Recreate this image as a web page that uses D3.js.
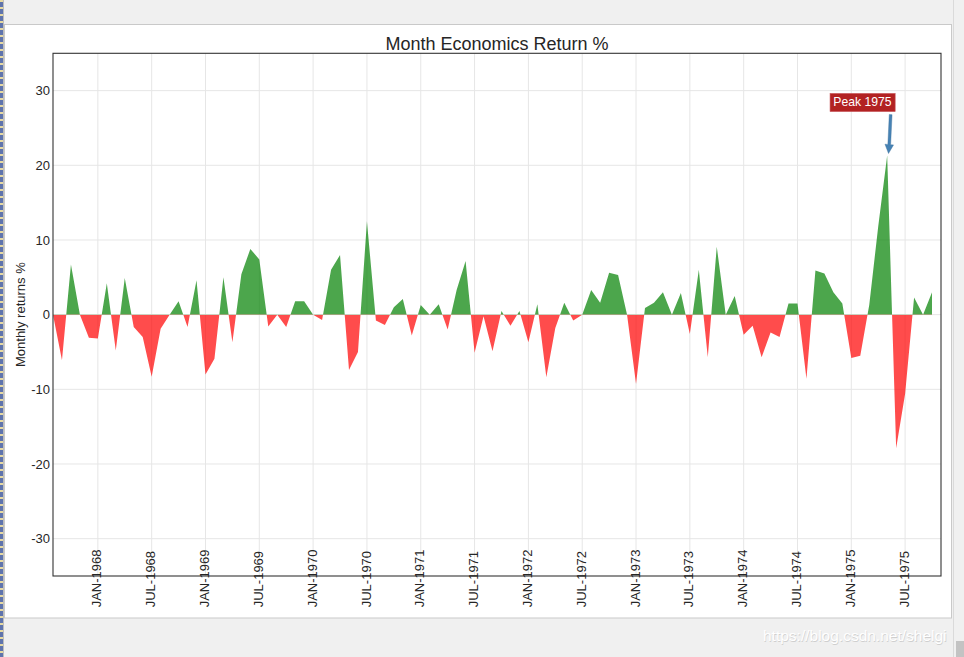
<!DOCTYPE html>
<html>
<head>
<meta charset="utf-8">
<script src="https://cdn.jsdelivr.net/npm/d3@7"></script>
<style>
  body { margin: 0; background: #f0f0f0; }
  svg { display: block; font-family: "Liberation Sans", Arial, "Helvetica", sans-serif; }
</style>
</head>
<body>
<svg id="chart" width="964" height="657"></svg>
<script>
// ---------------- data ----------------
// monthly % change of personal savings rate, Jul-1967 .. Oct-1975 (index 0..99)
const returns = [
  0, 0, -6.1, 6.7, 0, -3.1, -3.2, 4.2, -4.8, 4.9,
  -1.65, -3.0, -8.3, -1.9, 0, 1.8, -1.65, 4.6, -8.0, -5.9,
  5.0, -3.7, 5.4, 8.8, 7.4, -1.6, 0, -1.65, 1.8, 1.8,
  0, -0.7, 6.0, 8.0, -7.4, -5.0, 12.5, -0.8, -1.4, 1.0,
  2.1, -2.8, 1.3, 0, 1.4, -2.0, 3.3, 7.2, -5.1, -0.2,
  -4.9, 0.5, -1.5, 0.5, -3.7, 1.4, -8.4, -1.8, 1.6, -0.8,
  0, 3.3, 1.6, 5.6, 5.3, 0, -9.3, 0.9, 1.6, 3.0,
  0, 2.9, -2.6, 6.0, -5.7, 9.1, 0, 2.5, -2.7, -1.5,
  -5.7, -2.4, -3.0, 1.5, 1.5, -8.6, 5.9, 5.5, 3.0, 1.5,
  -5.8, -5.5, 1.3, 11.8, 21.3, -17.9, -10.6, 2.3, 0, 3.0
];
const xTickIndex = [0, 6, 12, 18, 24, 30, 36, 42, 48, 54, 60, 66, 72, 78, 84, 90, 96];
const xTickLabels = ["JUL-1967", "JAN-1968", "JUL-1968", "JAN-1969", "JUL-1969", "JAN-1970",
  "JUL-1970", "JAN-1971", "JUL-1971", "JAN-1972", "JUL-1972", "JAN-1973", "JUL-1973",
  "JAN-1974", "JUL-1974", "JAN-1975", "JUL-1975"];
const yTicks = [-30, -20, -10, 0, 10, 20, 30];
const xLimits = [1, 100];
const yLimits = [-35, 35];
const annotations = [{ text: "Peak 1975", x: 94, y: 21, textX: 88, textY: 28 }];
const titleText = "Month Economics Return %";
const yLabelText = "Monthly returns %";
const watermarkText = "https://blog.csdn.net/shelgi";

// ---------------- layout ----------------
const svg = d3.select("#chart");
const W = 964, H = 657;
const plot = { left: 53, right: 941, top: 53.3, bottom: 576 };

// window chrome
svg.append("rect").attr("x", 0).attr("y", 0).attr("width", W).attr("height", H).attr("fill", "#f0f0f0");
svg.append("rect").attr("x", 4.5).attr("y", 24.5).attr("width", 947).attr("height", 593.5)
  .attr("fill", "#ffffff").attr("stroke", "#c9c9c9").attr("stroke-width", 1);
// left dotted strip
const defs = svg.append("defs");
const pat = defs.append("pattern").attr("id", "dots").attr("patternUnits", "userSpaceOnUse")
  .attr("width", 3).attr("height", 7);
pat.append("rect").attr("width", 3).attr("height", 7).attr("fill", "#5f74ad");
pat.append("rect").attr("y", 0).attr("width", 3).attr("height", 2).attr("fill", "#e6d9a2");
svg.append("rect").attr("x", 0).attr("y", 0).attr("width", 3).attr("height", H).attr("fill", "url(#dots)");
svg.append("line").attr("x1", 3.5).attr("x2", 3.5).attr("y1", 0).attr("y2", H).attr("stroke", "#bdbdbd");
// right edge
svg.append("line").attr("x1", 953.5).attr("x2", 953.5).attr("y1", 0).attr("y2", H).attr("stroke", "#dadada");

// scales
const x = d3.scaleLinear().domain(xLimits).range([plot.left, plot.right]);
const y = d3.scaleLinear().domain(yLimits).range([plot.bottom, plot.top]);

// grid
const g = svg.append("g");
g.append("g").selectAll("line").data(yTicks).join("line")
  .attr("x1", plot.left).attr("x2", plot.right)
  .attr("y1", d => y(d)).attr("y2", d => y(d))
  .attr("stroke", "#e6e6e6").attr("stroke-width", 1);
const visibleTicks = xTickIndex.map((d, i) => ({ i: d, label: xTickLabels[i] }))
  .filter(d => d.i >= xLimits[0] && d.i <= xLimits[1]);
g.append("g").selectAll("line").data(visibleTicks).join("line")
  .attr("x1", d => x(d.i)).attr("x2", d => x(d.i))
  .attr("y1", plot.top).attr("y2", plot.bottom)
  .attr("stroke", "#e6e6e6").attr("stroke-width", 1);

// areas
const pts = returns.map((v, i) => ({ i, v })).filter(d => d.i >= 1);
const area = d3.area().x(d => x(d.i)).y0(y(0)).y1(d => y(d.v));
defs.append("clipPath").attr("id", "above").append("rect")
  .attr("x", plot.left).attr("y", plot.top).attr("width", plot.right - plot.left).attr("height", y(0) - plot.top);
defs.append("clipPath").attr("id", "below").append("rect")
  .attr("x", plot.left).attr("y", y(0)).attr("width", plot.right - plot.left).attr("height", plot.bottom - y(0));
g.append("path").datum(pts).attr("d", area).attr("fill", "green").attr("fill-opacity", 0.7)
  .attr("clip-path", "url(#above)");
g.append("path").datum(pts).attr("d", area).attr("fill", "red").attr("fill-opacity", 0.7)
  .attr("clip-path", "url(#below)");

// spines
g.append("rect").attr("x", plot.left).attr("y", plot.top)
  .attr("width", plot.right - plot.left).attr("height", plot.bottom - plot.top)
  .attr("fill", "none").attr("stroke", "#333").attr("stroke-width", 1.1);

// y tick labels
g.append("g").selectAll("text").data(yTicks).join("text")
  .attr("x", plot.left - 3).attr("y", d => y(d)).attr("dy", "0.36em")
  .attr("text-anchor", "end").attr("font-size", 13).attr("fill", "#262626")
  .text(d => String(d));

// x tick labels (rotated)
g.append("g").selectAll("text").data(visibleTicks).join("text")
  .attr("transform", d => `translate(${x(d.i)},607.3) rotate(-90)`)
  .attr("dy", "0.28em")
  .attr("text-anchor", "start").attr("font-size", 13).attr("fill", "#262626")
  .text(d => d.label);

// title
svg.append("text").attr("x", (plot.left + plot.right) / 2).attr("y", 49.5)
  .attr("text-anchor", "middle").attr("font-size", 18).attr("fill", "#262626")
  .text(titleText);

// y label
svg.append("text").attr("transform", `translate(24.5,${(plot.top + plot.bottom) / 2}) rotate(-90)`)
  .attr("text-anchor", "middle").attr("font-size", 13).attr("fill", "#262626")
  .text(yLabelText);

// annotation
annotations.forEach(a => {
  const fs = 12.2;
  const tx = x(a.textX), ty = y(a.textY);
  const ag = svg.append("g");
  const box = ag.append("rect");
  const t = ag.append("text").attr("x", tx).attr("y", ty).attr("font-size", fs)
    .attr("fill", "#ffffff").text(a.text);
  const bb = t.node().getBBox();
  const bx0 = bb.x - 3.3, bx1 = bb.x + bb.width + 3.3;
  const by0 = ty - 0.716 * fs - 3.4, by1 = ty + 6;
  box.attr("x", bx0).attr("y", by0).attr("width", bx1 - bx0).attr("height", by1 - by0)
    .attr("fill", "#b22222").attr("stroke", "#c8565a").attr("stroke-width", 0.6);
  // arrow from box toward point
  const sx = bx1 - 4.5, sy = by1 + 3;
  const px = x(a.x), py = y(a.y);
  const len = Math.hypot(px - sx, py - sy);
  const ux = (px - sx) / len, uy = (py - sy) / len;
  const tipX = px - ux * len * 0.1 + 1, tipY = py - uy * len * 0.1;
  const headL = 9, headW = 4.3, shaftW = 1.4;
  const nx = -uy, ny = ux;
  const bxh = tipX - ux * headL, byh = tipY - uy * headL;
  const poly = [
    [sx + nx * shaftW, sy + ny * shaftW],
    [bxh + nx * shaftW, byh + ny * shaftW],
    [bxh + nx * headW, byh + ny * headW],
    [tipX, tipY],
    [bxh - nx * headW, byh - ny * headW],
    [bxh - nx * shaftW, byh - ny * shaftW],
    [sx - nx * shaftW, sy - ny * shaftW]
  ];
  ag.append("path").attr("d", d3.line()(poly) + "Z").attr("fill", "#4682b4")
    .attr("stroke", "#3d6f99").attr("stroke-width", 0.4);
});

// watermark (white text with a faint shadow)
svg.append("text").attr("x", 763.6).attr("y", 641.6).attr("font-size", 15.5)
  .attr("fill", "#cfcfcf").text(watermarkText);
svg.append("text").attr("x", 763).attr("y", 641).attr("font-size", 15.5)
  .attr("fill", "#ffffff").text(watermarkText);
svg.append("rect").attr("x", 956).attr("y", 641).attr("width", 8).attr("height", 16).attr("fill", "#c3c3c3");
</script>
</body>
</html>
